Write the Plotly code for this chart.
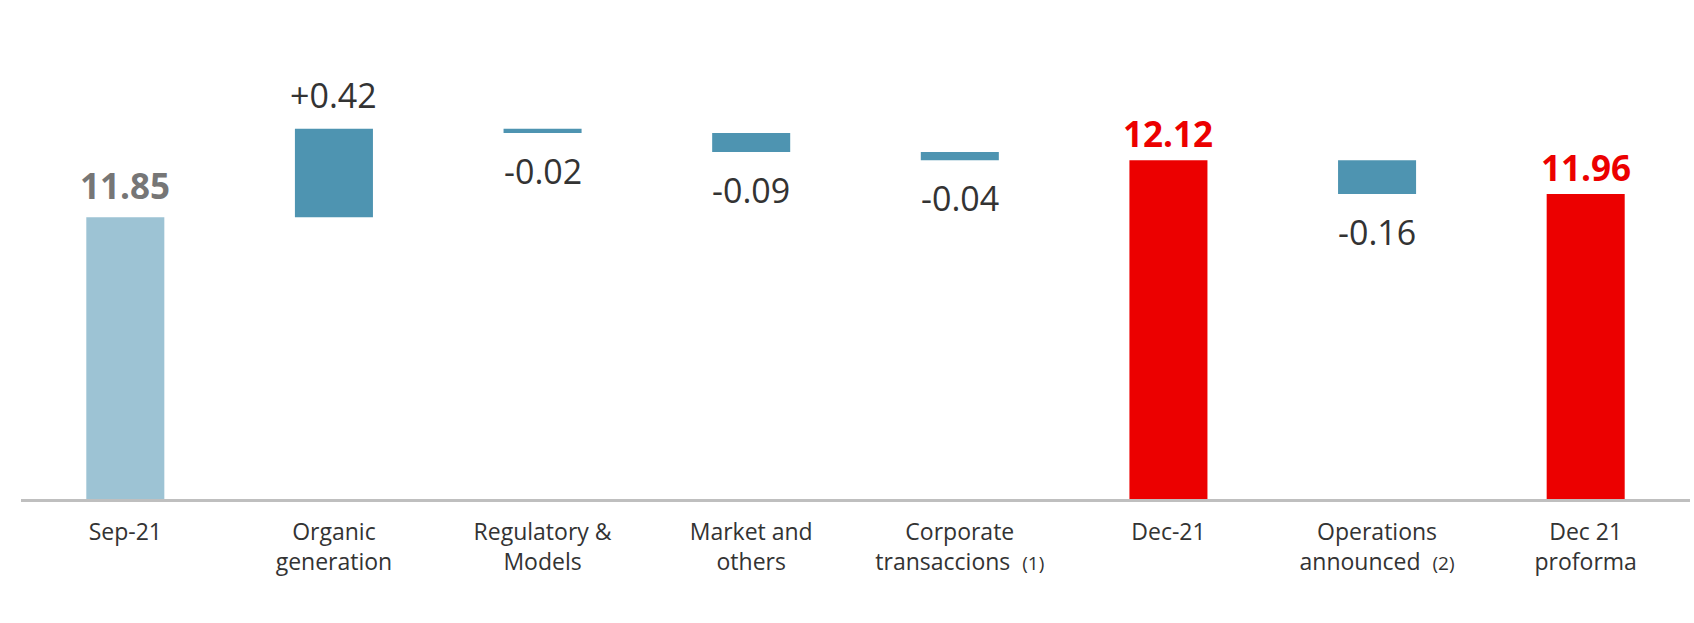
import plotly.graph_objects as go

categories = ["Sep-21", "Organic<br>generation", "Regulatory &<br>Models", "Market and<br>others",
              "Corporate<br>transaccions  <span style='font-size:19px'>(1)</span>", "Dec-21",
              "Operations<br>announced  <span style='font-size:19px'>(2)</span>", "Dec 21<br>proforma"]
values = [11.85, 0.42, -0.02, -0.09, -0.04, 12.12, -0.16, 11.96]
kinds = ["total", "delta", "delta", "delta", "delta", "total", "delta", "total"]
labels = ["11.85", "+0.42", "-0.02", "-0.09", "-0.04", "12.12", "-0.16", "11.96"]

y_min = 10.515
y_max = 12.785

bar_colors = ["#9DC3D4", "#4E94B1", "#4E94B1", "#4E94B1", "#4E94B1", "#EC0000", "#4E94B1", "#EC0000"]
label_colors = ["#767676", "#333333", "#333333", "#333333", "#333333", "#EC0000", "#333333", "#EC0000"]

bases, heights = [], []
running = 0.0
for v, k in zip(values, kinds):
    if k == "total":
        bases.append(y_min)
        heights.append(v - y_min)
        running = v
    else:
        bases.append(running)
        heights.append(v)
        running += v

x_idx = list(range(len(categories)))

fig = go.Figure()
fig.add_trace(go.Bar(x=x_idx, y=heights, base=bases, width=0.374,
                     marker=dict(color=bar_colors, line=dict(width=0)),
                     hoverinfo="skip"))

for i, (v, k, lab, col) in enumerate(zip(values, kinds, labels, label_colors)):
    top = bases[i] + max(heights[i], 0)
    bottom = bases[i] + min(heights[i], 0)
    if k == "total":
        shift = 6 if i == 0 else 1
        fig.add_annotation(x=i, y=top, text="<b>" + lab + "</b>", showarrow=False,
                           yanchor="bottom", yshift=shift,
                           font=dict(size=35, color=col, family="Open Sans"))
    elif v >= 0:
        fig.add_annotation(x=i, y=top, text=lab, showarrow=False,
                           yanchor="bottom", yshift=9,
                           font=dict(size=34, color=col, family="Open Sans"))
    else:
        fig.add_annotation(x=i, y=bottom, text=lab, showarrow=False,
                           yanchor="top", yshift=-13,
                           font=dict(size=34, color=col, family="Open Sans"))

fig.update_layout(
    width=1694, height=623,
    margin=dict(l=21, r=4, t=20, b=124),
    paper_bgcolor="white", plot_bgcolor="white",
    showlegend=False,
    xaxis=dict(range=[-0.5, 7.5], tickmode="array", tickvals=x_idx, ticktext=categories,
               showline=True, linecolor="#BFBFBF", linewidth=3, showgrid=False, zeroline=False,
               ticks="outside", ticklen=10, tickcolor="rgba(0,0,0,0)",
               tickfont=dict(size=23, color="#333333", family="Open Sans"), tickangle=0),
    yaxis=dict(range=[y_min, y_max], visible=False, showgrid=False, zeroline=False),
)

fig.write_html("out.html")
